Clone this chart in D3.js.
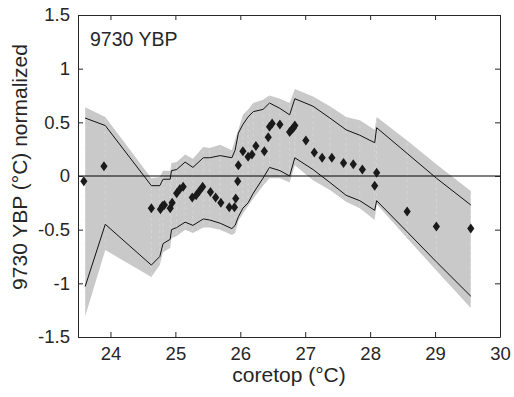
<!DOCTYPE html>
<html>
<head>
  <meta charset="UTF-8">
  <style>
    body { margin: 0; background: #fff; }
    text { font-family: "Liberation Sans", Arial, sans-serif; fill: #262626; }
  </style>
</head>
<body>
<script type='text/javascript' src='https://d3js.org/d3.v7.min.js'></script>
<script>
var width = 514, height = 397;

// diamonds: coretop temperature vs normalized 9730 YBP value
var coretop = [23.59, 23.9, 24.63, 24.77, 24.8, 24.83, 24.92, 24.95, 25.02, 25.07, 25.12,
  25.26, 25.32, 25.37, 25.42, 25.54, 25.62, 25.7, 25.83, 25.91, 25.93, 25.96, 25.97,
  26.04, 26.12, 26.18, 26.24, 26.37, 26.43, 26.45, 26.49, 26.61, 26.76, 26.79, 26.82,
  26.84, 27.01, 27.14, 27.26, 27.41, 27.59, 27.74, 27.88, 28.1, 28.07, 28.57, 29.02, 29.55];
var ybp = [-0.05, 0.09, -0.3, -0.31, -0.28, -0.27, -0.3, -0.25, -0.16, -0.12, -0.1,
  -0.2, -0.18, -0.14, -0.1, -0.15, -0.2, -0.25, -0.29, -0.29, -0.21, -0.05, 0.1,
  0.23, 0.18, 0.2, 0.28, 0.23, 0.36, 0.46, 0.49, 0.48, 0.41, 0.43, 0.45,
  0.47, 0.33, 0.22, 0.17, 0.17, 0.12, 0.11, 0.06, 0.03, -0.09, -0.33, -0.47, -0.49];

// envelope nodes
var nodeX = [23.61, 23.92, 24.63, 24.76, 24.81, 24.92, 24.94, 25.02, 25.15, 25.27, 25.43,
  25.53, 25.69, 25.87, 25.92, 25.97, 26.04, 26.12, 26.2, 26.35, 26.45, 26.61, 26.76,
  26.84, 27.12, 27.38, 27.63, 27.84, 28.07, 28.1, 28.57, 29.02, 29.55];
var bandHi = [0.64, 0.55, -0.02, -0.01, 0.05, 0.05, 0.12, 0.13, 0.2, 0.16, 0.27,
  0.26, 0.29, 0.24, 0.34, 0.43, 0.57, 0.62, 0.68, 0.71, 0.75, 0.72, 0.68,
  0.81, 0.74, 0.65, 0.55, 0.52, 0.43, 0.55, 0.33, 0.11, -0.14];
var bandLo = [-1.31, -0.69, -0.94, -0.83, -0.71, -0.67, -0.58, -0.56, -0.5, -0.53, -0.48,
  -0.48, -0.5, -0.55, -0.53, -0.42, -0.35, -0.28, -0.21, -0.09, -0.02, -0.02, -0.06,
  0.1, -0.04, -0.13, -0.24, -0.3, -0.41, -0.26, -0.58, -0.88, -1.23];
var lineHi = [0.54, 0.47, -0.09, -0.09, -0.03, -0.03, 0.05, 0.06, 0.13, 0.08, 0.17,
  0.17, 0.19, 0.17, 0.24, 0.4, 0.48, 0.55, 0.6, 0.62, 0.68, 0.63, 0.57,
  0.72, 0.65, 0.54, 0.43, 0.38, 0.31, 0.45, 0.21, -0.02, -0.27];
var lineLo = [-1.03, -0.45, -0.83, -0.75, -0.63, -0.59, -0.5, -0.48, -0.43, -0.46, -0.4,
  -0.41, -0.44, -0.49, -0.46, -0.38, -0.3, -0.25, -0.16, -0.02, 0.08, 0.05, 0,
  0.17, 0.06, -0.06, -0.18, -0.23, -0.32, -0.23, -0.52, -0.8, -1.12];

var xTicks = [24, 25, 26, 27, 28, 29, 30];
var yTicks = [-1.5, -1, -0.5, 0, 0.5, 1, 1.5];

var m = {left: 78, right: 14, top: 15, bottom: 60};

var svg = d3.select('body').append('svg').attr('width', width).attr('height', height);

var x = d3.scaleLinear().domain([23.5, 30]).range([m.left, width - m.right]);
var y = d3.scaleLinear().domain([-1.5, 1.5]).range([height - m.bottom, m.top]);

var g = svg.append('g');

// gray envelope
var area = d3.area()
  .x(function(d, i) { return x(nodeX[i]); })
  .y0(function(d, i) { return y(bandLo[i]); })
  .y1(function(d, i) { return y(bandHi[i]); });
g.append('path').datum(nodeX).attr('d', area).attr('fill', '#c9c9c9');

// faint white streaks inside the band
g.selectAll('line.streak').data(nodeX).join('line')
  .attr('class', 'streak')
  .attr('x1', function(d) { return x(d); })
  .attr('x2', function(d) { return x(d); })
  .attr('y1', function(d, i) { return y(bandLo[i]) - 2; })
  .attr('y2', function(d, i) { return y(bandHi[i]) + 2; })
  .attr('stroke', '#fff').attr('stroke-opacity', 0.3)
  .attr('stroke-width', 0.8).attr('stroke-dasharray', '3,3');

// zero line
g.append('line')
  .attr('x1', x(23.5)).attr('x2', x(30))
  .attr('y1', y(0)).attr('y2', y(0))
  .attr('stroke', '#000').attr('stroke-width', 1);

// bounds
[lineHi, lineLo].forEach(function(arr) {
  var line = d3.line()
    .x(function(d, i) { return x(nodeX[i]); })
    .y(function(d) { return y(d); });
  g.append('path').datum(arr).attr('d', line)
    .attr('fill', 'none').attr('stroke', '#111').attr('stroke-width', 1);
});

// diamonds
g.selectAll('path.pt').data(coretop).join('path')
  .attr('class', 'pt')
  .attr('d', 'M0,-5L3.6,0L0,5L-3.6,0Z')
  .attr('transform', function(d, i) { return 'translate(' + x(d) + ',' + y(ybp[i]) + ')'; })
  .attr('fill', '#1a1a1a');

// axes box with inward ticks
var axisColor = '#262626';
var xb = svg.append('g').attr('transform', 'translate(0,' + y(-1.5) + ')')
  .call(d3.axisBottom(x).tickValues(xTicks).tickSizeInner(-5).tickSizeOuter(0).tickPadding(10)
    .tickFormat(d3.format('d')));
var xt = svg.append('g').attr('transform', 'translate(0,' + y(1.5) + ')')
  .call(d3.axisTop(x).tickValues(xTicks).tickSizeInner(-5).tickSizeOuter(0).tickFormat(''));
var yl = svg.append('g').attr('transform', 'translate(' + x(23.5) + ',0)')
  .call(d3.axisLeft(y).tickValues(yTicks).tickSizeInner(-5).tickSizeOuter(0).tickPadding(8)
    .tickFormat(function(d) { return String(d); }));
var yr = svg.append('g').attr('transform', 'translate(' + x(30) + ',0)')
  .call(d3.axisRight(y).tickValues(yTicks).tickSizeInner(-5).tickSizeOuter(0).tickFormat(''));

[xb, xt, yl, yr].forEach(function(a) {
  a.select('.domain').attr('stroke', axisColor).attr('stroke-width', 1);
  a.selectAll('.tick line').attr('stroke', axisColor);
  a.selectAll('.tick text').attr('font-size', 18.5).attr('fill', '#262626')
    .attr('font-family', '"Liberation Sans", Arial, sans-serif');
});

// labels
svg.append('text').attr('x', x(26.75)).attr('y', 382)
  .attr('text-anchor', 'middle').attr('font-size', 21).text('coretop (°C)');
svg.append('text')
  .attr('transform', 'translate(27,167) rotate(-90)')
  .attr('text-anchor', 'middle').attr('font-size', 21).text('9730 YBP (°C) normalized');
svg.append('text').attr('x', 90).attr('y', 46).attr('font-size', 19.5).text('9730 YBP');

console.log('ready..');
</script>
</body>
</html>
